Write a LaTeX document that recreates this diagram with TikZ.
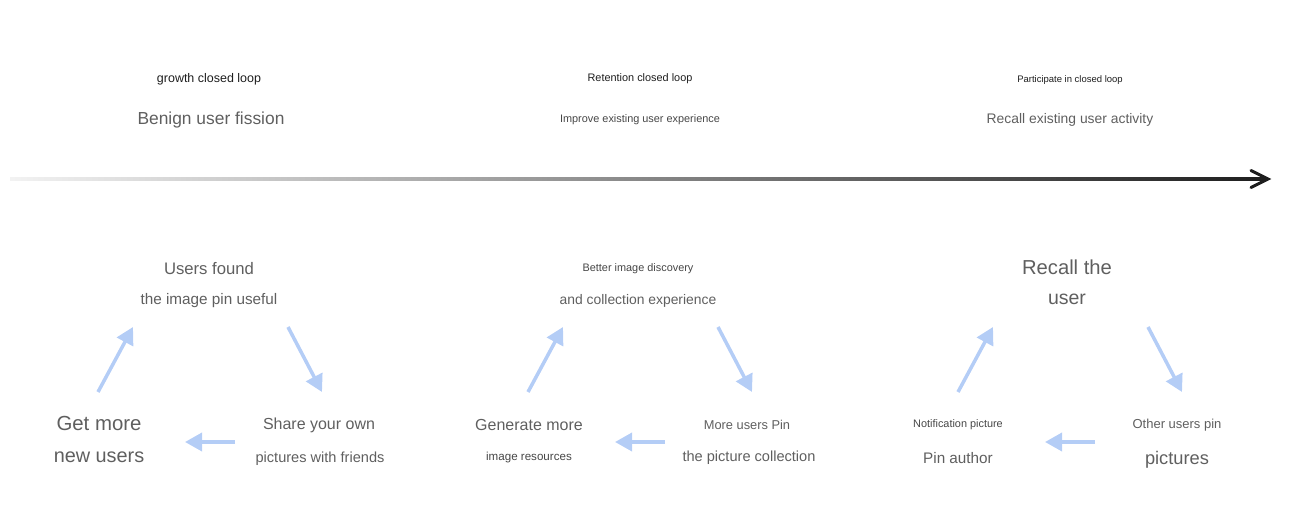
\documentclass[tikz,border=0pt]{standalone}
\usepackage{fontspec}
\setmainfont{Liberation Sans}
\usetikzlibrary{arrows.meta,positioning,calc}
\definecolor{ink}{RGB}{30,30,30}
\definecolor{grey}{RGB}{95,95,95}
\definecolor{dim}{RGB}{70,70,70}
\definecolor{flow}{RGB}{180,205,246}
\tikzset{
  txt/.style={font=\fontsize{#1}{#1}\selectfont,text=grey,inner sep=0pt,anchor=center,yshift=-1.5},
  sml/.style={font=\fontsize{#1}{#1}\selectfont,text=dim,inner sep=0pt,anchor=center,yshift=-1.5},
  flw/.style={-{Triangle[length=0.34cm,width=0.36cm]},line width=2pt,flow},
  tip/.style={line width=1.7pt,ink,line cap=round,line join=miter},
}
\begin{document}
\begin{tikzpicture}[x=0.02cm,y=-0.02cm]
\useasboundingbox (0,0) rectangle (1300,519);
% time line
\coordinate (tl) at (10,179);
\coordinate (tr) at (1266,179);
\shade[left color=black!5,right color=ink] ($(tl)+(0,-1.5)$) rectangle ($(tr)+(0,1.5)$);
\draw[tip] ($(tr)+(-15,-8.5)$) -- ($(tr)+(2,0)$) -- ($(tr)+(-15,8.5)$);
% stages
\node[sml=7.1,text=ink] (gtitle) at (209,77) {growth closed loop};
\node[txt=9.9] (gsub) at (211,117) {Benign user fission};
\node[sml=6.2,text=ink] (rtitle) at (640,76) {Retention closed loop};
\node[sml=6.2] (rsub) at (640,117) {Improve existing user experience};
\node[sml=5.4,text=ink] (ptitle) at (1070,77) {Participate in closed loop};
\node[txt=7.9] (psub) at (1070,117) {Recall existing user activity};
% growth cycle
\node[txt=9.5] (g1) at (209,266) {Users found};
\node[txt=8.7] (g2) at (209,298) {the image pin useful};
\node[txt=9.1] (g3) at (319,423) {Share your own};
\node[txt=8.3] (g4) at (320,456) {pictures with friends};
\node[txt=11.6] (g5) at (99,421) {Get more};
\node[txt=11.3] (g6) at (99,455) {new users};
% retention cycle
\node[sml=6.2] (r1) at (638,266) {Better image discovery};
\node[txt=7.9] (r2) at (638,298) {and collection experience};
\node[txt=7.3] (r3) at (747,422) {More users Pin};
\node[txt=8.3] (r4) at (749,455) {the picture collection};
\node[txt=9.1] (r5) at (529,422) {Generate more};
\node[sml=6.6] (r6) at (529,455) {image resources};
% participation cycle
\node[txt=11.5] (p1) at (1067,265) {Recall the};
\node[txt=11.1] (p2) at (1067,297) {user};
\node[txt=7.4] (p3) at (1177,423) {Other users pin};
\node[txt=10.4] (p4) at (1177,457) {pictures};
\node[sml=6.2] (p5) at (958,422) {Notification picture};
\node[txt=8.7] (p6) at (958,455) {Pin author};
% arrows of the three cycles
\foreach \c/\dx in {g/0,r/430,p/860}{
  \coordinate (\c a) at (98+\dx,392);
  \coordinate (\c b) at (133+\dx,327);
  \coordinate (\c c) at (288+\dx,327);
  \coordinate (\c d) at (322+\dx,392);
  \coordinate (\c e) at (235+\dx,442);
  \coordinate (\c f) at (185+\dx,442);
  \draw[flw] (\c a) -- (\c b);
  \draw[flw] (\c c) -- (\c d);
  \draw[flw] (\c e) -- (\c f);
}
\end{tikzpicture}
\end{document}
